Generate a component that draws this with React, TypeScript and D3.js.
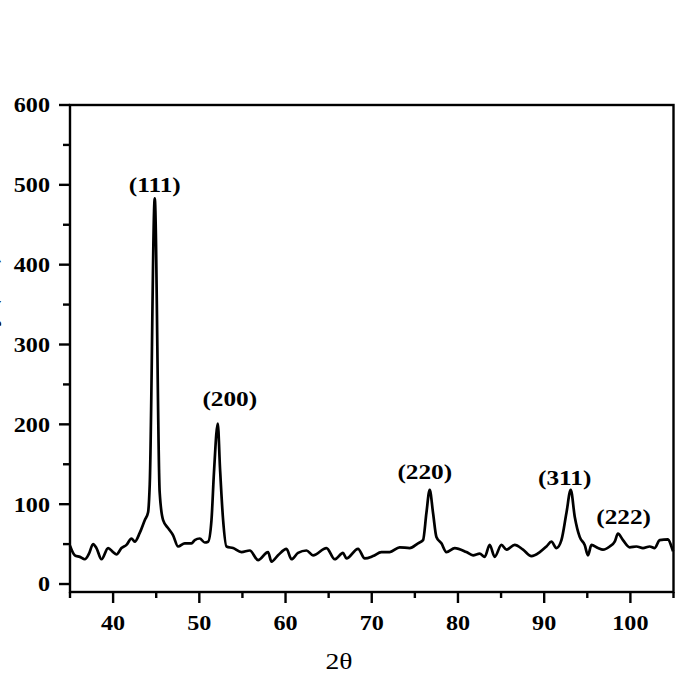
import React from "react";
import * as d3 from "d3";

const twoTheta = [
  35.0, 35.56, 36.14, 36.72, 37.2, 37.68, 38.07, 38.65, 39.42, 40.0, 40.39, 40.97, 41.55, 42.13, 42.51,
  43.09, 43.67, 44.06, 44.25, 44.83, 45.4, 45.8, 46.38, 46.96, 47.54, 48.31, 49.09, 49.47, 50.05,
  50.63, 51.02, 51.41, 51.7, 52.14, 52.4, 52.76, 53.15, 53.91, 54.89, 55.85, 56.81, 57.97, 58.37,
  59.13, 60.11, 60.69, 61.45, 62.43, 63.19, 64.75, 65.71, 66.67, 67.07, 68.41, 69.19, 70.15, 71.12,
  72.08, 73.24, 74.4, 75.37, 75.95, 76.34, 76.72, 77.11, 77.5, 78.08, 78.66, 79.63, 80.98, 81.75,
  82.52, 83.1, 83.68, 84.26, 85.04, 85.62, 86.58, 87.55, 88.52, 89.49, 90.26, 90.84, 91.42, 92.0,
  92.58, 93.08, 93.55, 94.12, 94.7, 95.08, 95.48, 96.24, 96.82, 97.6, 98.18, 98.56, 99.14, 99.92,
  100.7, 101.46, 102.24, 102.82, 103.4, 104.36, 104.76, 104.95,
];
const intensity = [
  48, 36, 34, 31, 38, 50, 45, 31, 45, 40, 37, 45, 49, 57, 53,
  64, 80, 90, 125, 483, 115, 80, 70, 61, 47, 51, 51, 55, 57,
  52, 53, 80, 140, 201, 145, 80, 47, 45, 40, 42, 30, 40, 28,
  36, 44, 31, 39, 42, 36, 45, 31, 39, 32, 44, 32, 35, 40,
  40, 46, 45, 51, 55, 89, 118, 89, 59, 51, 40, 45, 40, 36,
  38, 34, 49, 34, 49, 43, 49, 43, 35, 40, 47, 53, 45, 55,
  89, 118, 84, 59, 49, 36, 49, 45, 43, 47, 53, 63, 55, 46,
  47, 45, 47, 45, 55, 56, 47, 41,
];

const peakLabels = ["(111)", "(200)", "(220)", "(311)", "(222)"];
const peakLabelX = [44.83, 53.53, 76.15, 92.38, 99.22];
const peakLabelY = [491, 223, 131, 124, 75];

const xMajor = [40, 50, 60, 70, 80, 90, 100];
const xMinor = [35, 45, 55, 65, 75, 85, 95, 105];
const yMajor = [0, 100, 200, 300, 400, 500, 600];
const yMinor = [50, 150, 250, 350, 450, 550];

const xTitle = "2θ";
const yTitle = "Intensity (a.u.)";

export default function App() {
  const left = 70, right = 673.5, top = 105, bottom = 592;
  const x = d3.scaleLinear().domain([35, 105]).range([left, right]);
  const y = d3.scaleLinear().domain([-10, 600]).range([bottom, top]);
  const data = twoTheta.map((t, i) => [t, intensity[i]] as [number, number]);
  const line = d3.line<[number, number]>().x((d) => x(d[0])).y((d) => y(d[1])).curve(d3.curveMonotoneX);
  const serif = "'Liberation Serif', 'Times New Roman', serif";
  const sw = 2.4;
  const sx = 1.15;
  return (
    <div style={{ position: "absolute", left: 0, top: 0 }}>
      <svg width={700} height={700} style={{ display: "block", background: "#fff" }}>
        <path d={line(data) || ""} fill="none" stroke="#000" strokeWidth={2.7} strokeLinejoin="round" />
        <rect x={left} y={top} width={right - left} height={bottom - top} fill="none" stroke="#000" strokeWidth={sw} />
        {yMajor.map((v) => (
          <g key={"ym" + v}>
            <line x1={left - 11} x2={left} y1={y(v)} y2={y(v)} stroke="#000" strokeWidth={sw} />
            <text transform={`translate(${left - 20},${y(v)}) scale(${sx},1)`} dy="0.35em" textAnchor="end" fontFamily={serif} fontWeight="bold" fontSize={21}>
              {v}
            </text>
          </g>
        ))}
        {yMinor.map((v) => (
          <line key={"yn" + v} x1={left - 7} x2={left} y1={y(v)} y2={y(v)} stroke="#000" strokeWidth={sw} />
        ))}
        {xMajor.map((v) => (
          <g key={"xm" + v}>
            <line x1={x(v)} x2={x(v)} y1={bottom} y2={bottom + 11} stroke="#000" strokeWidth={sw} />
            <text transform={`translate(${x(v)},${bottom + 38}) scale(${sx},1)`} textAnchor="middle" fontFamily={serif} fontWeight="bold" fontSize={21}>
              {v}
            </text>
          </g>
        ))}
        {xMinor.map((v) => (
          <line key={"xn" + v} x1={x(v)} x2={x(v)} y1={bottom} y2={bottom + 6} stroke="#000" strokeWidth={sw} />
        ))}
        {peakLabels.map((lab, i) => (
          <text key={lab} transform={`translate(${x(peakLabelX[i])},${y(peakLabelY[i])}) scale(1.15,1)`} textAnchor="middle" fontFamily={serif} fontWeight="bold" fontSize={22}>
            {lab}
          </text>
        ))}
        <text transform="translate(339,669) scale(1.2,1)" textAnchor="middle" fontFamily={serif} fontSize={23}>
          {xTitle}
        </text>
        <text transform="translate(-4,330) rotate(-90)" textAnchor="middle" fontFamily={serif} fontWeight="bold" fontSize={24}>
          {yTitle}
        </text>
      </svg>
    </div>
  );
}
